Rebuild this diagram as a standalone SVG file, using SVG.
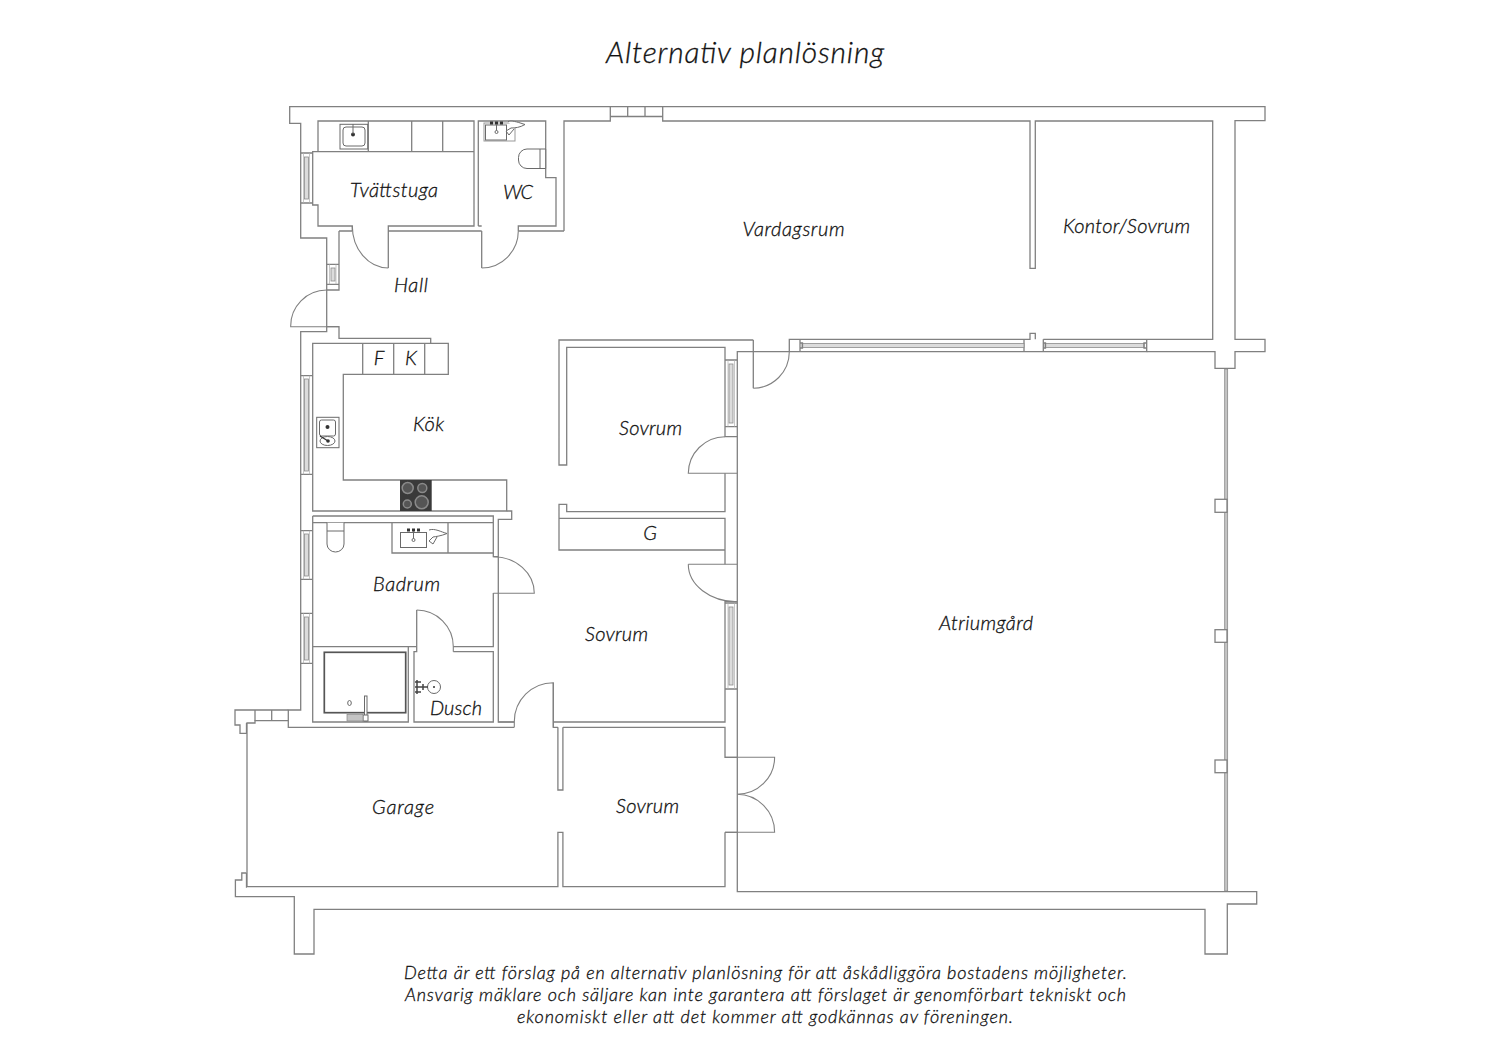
<svg xmlns="http://www.w3.org/2000/svg" width="1500" height="1060" viewBox="0 0 1500 1060">
<defs>
<style>
.w{fill:none;stroke:#808080;stroke-width:1.3}
.d{fill:none;stroke:#808080;stroke-width:1.1}
.g{fill:#dcdcdc;stroke:#8c8c8c;stroke-width:.8}
.f{fill:#fff;stroke:#6a6a6a;stroke-width:1}
.k{fill:#333;stroke:none}
text{font-family:"Lato","Open Sans","Liberation Sans",sans-serif;font-style:italic;font-weight:300;fill:#111;stroke:#111;stroke-width:.3;text-anchor:middle}
.l{font-size:20px}
.n{font-size:18px}
.t{font-size:30px}
</style>
</defs>
<rect width="1500" height="1060" fill="#fff"/>
<g id="walls">
<path class="w" d="M664 106.700H1265V120.700H1235V339.300H1265V351.700H1235V368.300H1215V351.700H1146.700M664 106.700H289.700V123.300H300.700V238H326.700V331.700H300.700V710H288.300V727.300H514.300"/>
<path class="w" d="M564 231V121H610.300V116.500H662.700V121H1030V268.300H1035.300V121H1212.700V339.300H1043.300M1024 339.300H1030V333.300H1035.300V339.300M610.300 107V116.500M627.700 107V116.500M645 107V116.500M662.700 107V116.500"/>
<path class="w" d="M1024 339.300V351.700H1043.300V339.300M1043.300 351.700H1146.700V339.300M1024 351.700H737.300V891.700H1256.700V904H1227.300V954H1205V909.300H314V954H294.300V896.700H235.400V880H241.800V873H246.500"/>
<path class="w" d="M1024 339.300H789.300V351.700M753.300 340H559V465H566.700V347.300H725V436.700H737.300M725 473.300V511.700H566.700V504.300H559V550H725V518.300H559M725 550V564.300M725 601V722H553.300V682.700M553.300 722V727.300H557.900M562.900 727.300H725V757.300H737M725 832.300H737M725 832.300V886.700H562.900V832.300H557.900V886.700H247V723H255V720.700H288.300M288.300 710H235V725H240V733.300H246.500V723M557.900 727.300V790H562.900V727.300M246.500 873V887H247"/>
<path class="w" d="M753.300 340V388.300M255 710V720.700M271.700 710V720.700"/>
<path class="w" d="M339 231V290H326.700M326.700 326.700H339V338.300H430.700V343.300M339 231H352.300M388.300 231H481.700M518.300 231H564M352.300 231V226H318V205H312.700V151.700H318V121H474V226H388.300V268M474 151.700H318M368.300 121V151.700M411.700 121V151.700M442.700 121V151.700"/>
<path class="w" d="M481.700 231V268M478.300 226V121H545.700V177.700H556V226H518.300V231M478.300 226H481.700"/>
<path class="w" d="M312.700 343.300H448.300V374.300H343.300V480H506.700V511H312.700ZM362.700 343.300V374.300M393.700 343.300V374.300M424.700 343.300V374.300"/>
<path class="w" d="M506.700 511H511.700V519.300H498.300V593M493.300 593V646.700H453.300M498.300 593V722H514.300M312.700 516H493.300V556.700H498.300M312.700 522.700H493.300M312.700 516V722H408.300V646.700H312.700M408.300 646.700H416.700V651.700H414V722H493.300V651.700H453.300M416.700 651.700V610"/>
<path class="w" d="M392 522.700V553H493.300M448 522.700V553"/>
</g>
<g id="doors">
<path class="d" d="M352.300 226A36 42 0 0 0 388.300 268M518.300 231A37 37 0 0 1 481.700 268M326.700 290A36 36 0 0 0 290.700 326.700H339M789.300 352A36.500 36.500 0 0 1 753.300 388.300M725 436.700A37 37 0 0 0 688.300 473.300H737M688.300 564.300A49 37.500 0 0 0 737 601.800M688.300 564.300H737M725 601.500H737M493.300 556.700A41 36.600 0 0 1 534.300 593.300H493.300M416.700 610A36.700 36.700 0 0 1 453.300 646.700V651.700M514.300 727.300V722A39 39 0 0 1 553.300 682.700V727.300M514.300 722H498.300M737 794.300A37.600 37 0 0 0 774.600 757.300H725M737 794.300A37.600 38 0 0 1 774.600 832.300H725"/>
</g>
<g id="windows">
<path class="w" d="M300.700 153H312.700M300.700 203H312.700M300.700 375.700H312.700M300.700 474.300H312.700M300.700 530.700H312.700M300.700 579.300H312.700M300.700 613.300H312.700M300.700 663.300H312.700M326.700 264.300H339M326.700 284.300H339M725 360H737.300M725 426.700H737.300M725 603H737.300M725 689H737.300"/>
<path class="d" d="M303.500 153V203M309.500 153V203M303.500 375.700V474.300M309.500 375.700V474.300M303.500 530.700V579.300M309.500 530.700V579.300M303.500 613.300V663.300M309.500 613.300V663.300M329.500 264.300V284.300M336 264.300V284.300M728 360V426.700M734.500 360V426.700M728 603V689M734.500 603V689" style="stroke:#b0b0b0;stroke-width:.7"/>
<rect class="g" x="304.500" y="157" width="4" height="42"/><rect class="g" x="304.500" y="379" width="4" height="92"/><rect class="g" x="304.500" y="534" width="4" height="42"/><rect class="g" x="304.500" y="617" width="4" height="43"/><rect class="g" x="331" y="268" width="4" height="13"/><rect class="g" x="729" y="364" width="4" height="59"/><rect class="g" x="729" y="607" width="4" height="78"/><rect class="g" x="802" y="343.500" width="222" height="4"/><rect class="g" x="1045" y="343.500" width="99" height="4"/>
<path class="w" d="M800 339.300V351.700M800 343H802.500V348H800M1043.300 343H1045.500V348H1043.300M1146.700 343H1144V348H1146.700"/>
<rect x="1224.700" y="369" width="3" height="522" fill="#c4c4c4" stroke="#808080" stroke-width=".7"/>
<rect class="w" x="1215" y="499.300" width="12" height="13" style="fill:#fff"/>
<rect class="w" x="1215" y="629.700" width="12" height="12.600" style="fill:#fff"/>
<rect class="w" x="1215" y="760" width="12" height="12.700" style="fill:#fff"/>
</g>
<g id="fixtures">
<rect class="f" x="340" y="124.300" width="27.700" height="24.700" stroke-width="1.400"/>
<rect class="f" x="343" y="127" width="22" height="19" rx="3"/><circle cx="353" cy="134.500" r="2" class="k"/><path class="f" d="M353 124V134"/>
<rect class="f" x="484" y="123" width="31" height="18" style="stroke:#999"/>
<rect class="f" x="485.500" y="125" width="21" height="15"/>
<path class="k" d="M490 121.500h3v3h-3zM495 121.500h3v3h-3zM500 121.500h3v3h-3z"/><path class="f" d="M496.500 124V132"/><circle cx="496.500" cy="132" r="1.500" class="f"/>
<path class="f" d="M508 121.500C513 120 520 123 525 124.500C520 127.500 515 128 511 128L506 131L509 135L514 129"/>
<path class="f" d="M540 149H527A8.500 8.500 0 0 0 518.500 157.500V160A8.500 8.500 0 0 0 527 168.500H540M540 149H545.700V168.500H540V149"/>
<rect class="f" x="316.700" y="417.300" width="22.300" height="30.400" stroke-width="1.300"/>
<rect class="f" x="319.500" y="420" width="16" height="16" rx="2"/><circle cx="327.500" cy="427" r="2" class="k"/><ellipse class="f" cx="327.500" cy="441" rx="7.500" ry="4.500"/><circle cx="328" cy="441" r="1.800" class="k"/><path d="M320 436L328 441" stroke="#333" stroke-width="1.200"/>
<rect x="400" y="480" width="31.700" height="31" fill="#3a3a3a"/>
<g fill="#555" stroke="#8a8a8a" stroke-width="1.500"><circle cx="407.700" cy="488" r="5.500"/><circle cx="422.300" cy="488" r="4.500"/><circle cx="407.300" cy="504" r="4"/><circle cx="421.700" cy="502.300" r="6.500"/></g>
<path class="f" d="M327 522.700V544A8.500 8 0 0 0 344 544V522.700M327 531H344"/>
<rect class="f" x="400.500" y="532.500" width="26" height="15"/>
<path class="k" d="M407 528.500h3v3h-3zM412 528.500h3v3h-3zM417 528.500h3v3h-3z"/><path class="f" d="M413.500 531V540"/><circle cx="413.500" cy="540" r="1.500" class="f"/>
<path class="f" d="M429 530C435 528 441 532 447 533.500C441 536 436 536.500 433 537L429 541L433 544L437 537"/>
<rect x="324.300" y="652.300" width="81.400" height="60.400" fill="none" stroke="#555" stroke-width="1.700"/>
<rect class="f" x="364.500" y="696" width="2.500" height="25"/><rect class="f" x="363" y="715" width="5" height="6"/>
<rect x="347" y="714.500" width="16" height="6.500" fill="#c4c4c4" stroke="#888" stroke-width=".7"/>
<ellipse class="f" cx="349.500" cy="703" rx="1.800" ry="2.500" stroke-width="1.300"/>
<circle class="f" cx="434" cy="687" r="6.500"/><circle cx="434" cy="687" r="1" class="k"/>
<path d="M415 687H428M417 680V694M415 682H421M415 692H421M423 684V690" stroke="#444" stroke-width="1.500" fill="none"/>
</g>
<g id="labels">
<text class="t" x="745" y="63" textLength="278">Alternativ planlösning</text>
<text class="l" x="394" y="197" textLength="88">Tvättstuga</text>
<text class="l" x="518" y="199" textLength="30">WC</text>
<text class="l" x="411" y="292" textLength="34">Hall</text>
<text class="l" x="793.500" y="236" textLength="102">Vardagsrum</text>
<text class="l" x="1126.500" y="233" textLength="127">Kontor/Sovrum</text>
<text class="l" x="379" y="365">F</text>
<text class="l" x="411" y="365">K</text>
<text class="l" x="428.500" y="431" textLength="31">Kök</text>
<text class="l" x="650.500" y="435" textLength="63">Sovrum</text>
<text class="l" x="650" y="540">G</text>
<text class="l" x="406.500" y="591" textLength="67">Badrum</text>
<text class="l" x="616.500" y="641" textLength="63">Sovrum</text>
<text class="l" x="456" y="715" textLength="52">Dusch</text>
<text class="l" x="986" y="630" textLength="94">Atriumgård</text>
<text class="l" x="403" y="814" textLength="62">Garage</text>
<text class="l" x="647.500" y="813" textLength="63">Sovrum</text>
<text class="n" x="765.500" y="979" textLength="723">Detta är ett förslag på en alternativ planlösning för att åskådliggöra bostadens möjligheter.</text>
<text class="n" x="765.500" y="1001" textLength="721">Ansvarig mäklare och säljare kan inte garantera att förslaget är genomförbart tekniskt och</text>
<text class="n" x="765" y="1023" textLength="496">ekonomiskt eller att det kommer att godkännas av föreningen.</text>
</g>
</svg>
